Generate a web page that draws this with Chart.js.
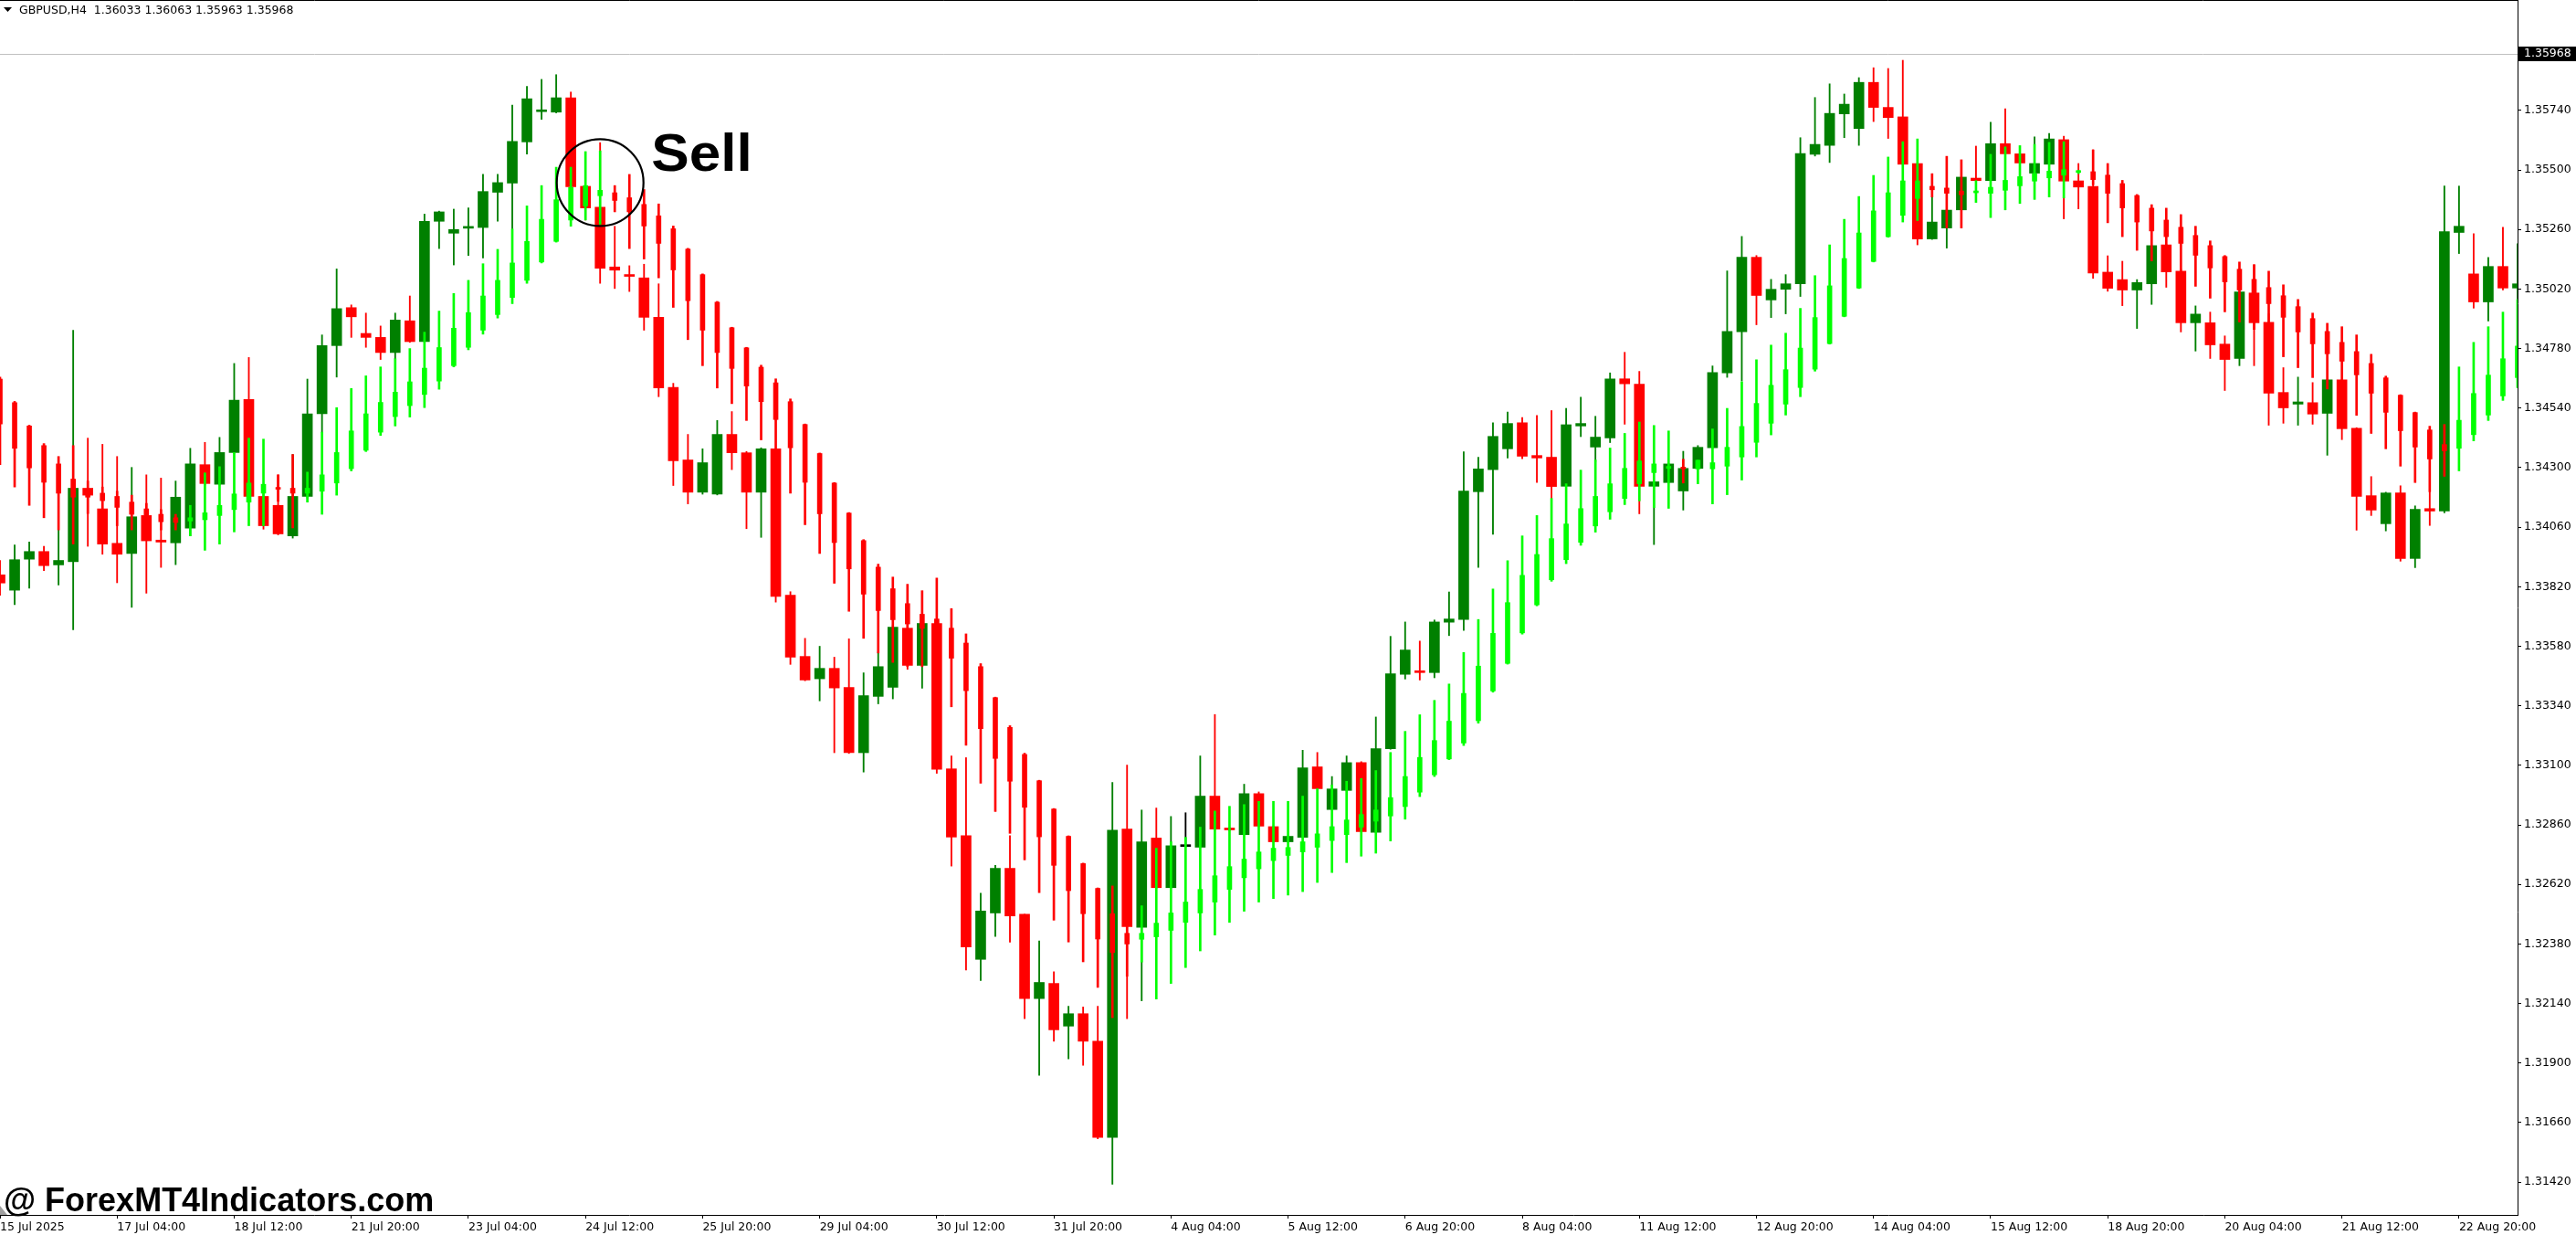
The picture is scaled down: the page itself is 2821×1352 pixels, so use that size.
<!DOCTYPE html>
<html lang="en">
<head>
  <meta charset="UTF-8">
  <title>GBPUSD,H4</title>
  <script src="https://cdn.jsdelivr.net/npm/chart.js@4.4.1/dist/chart.umd.min.js"></script>
  <style>
    html, body { margin: 0; padding: 0; background: #fff; overflow: hidden; }
    #wrap { position: relative; width: 2821px; height: 1352px; }
  </style>
</head>
<body>
<div id="wrap"><canvas id="priceChart"></canvas></div>
<script>
// header + bid line
const symbolHeader = 'GBPUSD,H4  1.36033 1.36063 1.35963 1.35968';
const bidPrice = 1.35968;

// axis labels (one date label every 8 bars)
const dateTicks = ['15 Jul 2025', '17 Jul 04:00', '18 Jul 12:00', '21 Jul 20:00', '23 Jul 04:00',
  '24 Jul 12:00', '25 Jul 20:00', '29 Jul 04:00', '30 Jul 12:00', '31 Jul 20:00', '4 Aug 04:00',
  '5 Aug 12:00', '6 Aug 20:00', '8 Aug 04:00', '11 Aug 12:00', '12 Aug 20:00', '14 Aug 04:00',
  '15 Aug 12:00', '18 Aug 20:00', '20 Aug 04:00', '21 Aug 12:00', '22 Aug 20:00'];
const priceTicks = [1.31420, 1.31660, 1.31900, 1.32140, 1.32380, 1.32620, 1.32860, 1.33100,
  1.33340, 1.33580, 1.33820, 1.34060, 1.34300, 1.34540, 1.34780, 1.35020, 1.35260, 1.35500, 1.35740];

// H4 candles
const candleOpen = [
  1.33868, 1.33806, 1.33931, 1.33962, 1.33908, 1.33921, 1.34217, 1.34134, 1.33995, 1.33954,
  1.34107, 1.34008, 1.33997, 1.34056, 1.34312, 1.34233, 1.34361, 1.34575, 1.34184, 1.34148,
  1.34025, 1.34184, 1.34517, 1.34792, 1.34945, 1.34841, 1.34825, 1.34764, 1.34892, 1.34808,
  1.35293, 1.35245, 1.35265, 1.35268, 1.35410, 1.35447, 1.35613, 1.35735, 1.35733, 1.35791,
  1.35434, 1.35350, 1.35109, 1.35076, 1.35065, 1.34906, 1.34624, 1.34331, 1.34201, 1.34193,
  1.34434, 1.34360, 1.34201, 1.34376, 1.33786, 1.33539, 1.33449, 1.33491, 1.33414, 1.33151,
  1.33378, 1.33415, 1.33653, 1.33503, 1.33672, 1.33086, 1.32817, 1.32318, 1.32505, 1.32685,
  1.32500, 1.32160, 1.32221, 1.32049, 1.32099, 1.31988, 1.31600, 1.32843, 1.32447, 1.32807,
  1.32607, 1.32773, 1.32770, 1.32976, 1.32846, 1.32821, 1.32986, 1.32853, 1.32792, 1.32810,
  1.33094, 1.32922, 1.32999, 1.33111, 1.32830, 1.33167, 1.33467, 1.33480, 1.33474, 1.33677,
  1.33688, 1.34203, 1.34292, 1.34376, 1.34481, 1.34349, 1.34342, 1.34225, 1.34468, 1.34383,
  1.34420, 1.34658, 1.34636, 1.34225, 1.34240, 1.34206, 1.34297, 1.34380, 1.34682, 1.34848,
  1.35148, 1.34976, 1.35019, 1.35041, 1.35563, 1.35599, 1.35726, 1.35667, 1.35853, 1.35752,
  1.35714, 1.35526, 1.35222, 1.35266, 1.35339, 1.35467, 1.35457, 1.35606, 1.35565, 1.35487,
  1.35523, 1.35622, 1.35456, 1.35434, 1.35088, 1.35058, 1.35016, 1.35041, 1.35198, 1.35092,
  1.34884, 1.34884, 1.34798, 1.34740, 1.35004, 1.34886, 1.34603, 1.34556, 1.34562, 1.34519,
  1.34654, 1.34459, 1.34187, 1.34074, 1.34198, 1.33934, 1.34135, 1.34125, 1.35248, 1.35081,
  1.34968, 1.35111, 1.35024];
const candleHigh = [
  1.33926, 1.33988, 1.34000, 1.33983, 1.34049, 1.34854, 1.34419, 1.34394, 1.34345, 1.34301,
  1.34271, 1.34258, 1.34246, 1.34378, 1.34402, 1.34422, 1.34720, 1.34744, 1.34197, 1.34271,
  1.34353, 1.34657, 1.34835, 1.35101, 1.34956, 1.34923, 1.34871, 1.34923, 1.34992, 1.35322,
  1.35334, 1.35342, 1.35347, 1.35482, 1.35482, 1.35761, 1.35837, 1.35865, 1.35884, 1.35814,
  1.35437, 1.35610, 1.35273, 1.35114, 1.35120, 1.35041, 1.34640, 1.34434, 1.34376, 1.34490,
  1.34526, 1.34365, 1.34380, 1.34376, 1.33800, 1.33612, 1.33580, 1.33536, 1.33610, 1.33473,
  1.33557, 1.33665, 1.33665, 1.33675, 1.33682, 1.33138, 1.33131, 1.32585, 1.32697, 1.32817,
  1.32500, 1.32392, 1.32268, 1.32129, 1.32126, 1.32129, 1.33031, 1.33101, 1.32920, 1.32928,
  1.32894, 1.32909, 1.33138, 1.33305, 1.32850, 1.33024, 1.32993, 1.32855, 1.32814, 1.33161,
  1.33152, 1.33055, 1.33138, 1.33115, 1.33295, 1.33620, 1.33678, 1.33601, 1.33686, 1.33799,
  1.34364, 1.34342, 1.34481, 1.34524, 1.34502, 1.34510, 1.34530, 1.34539, 1.34584, 1.34507,
  1.34682, 1.34765, 1.34688, 1.34245, 1.34317, 1.34366, 1.34389, 1.34710, 1.35093, 1.35232,
  1.35155, 1.35059, 1.35078, 1.35630, 1.35792, 1.35847, 1.35806, 1.35872, 1.35912, 1.35909,
  1.35942, 1.35528, 1.35391, 1.35340, 1.35473, 1.35596, 1.35692, 1.35747, 1.35567, 1.35633,
  1.35647, 1.35636, 1.35526, 1.35581, 1.35154, 1.35132, 1.35058, 1.35197, 1.35200, 1.35100,
  1.34952, 1.34927, 1.34831, 1.35010, 1.35118, 1.34920, 1.34703, 1.34665, 1.34643, 1.34656,
  1.34656, 1.34461, 1.34264, 1.34201, 1.34227, 1.34146, 1.34203, 1.35435, 1.35435, 1.35243,
  1.35147, 1.35269, 1.35203];
const candleLow = [
  1.33786, 1.33748, 1.33814, 1.33885, 1.33827, 1.33647, 1.33983, 1.33951, 1.33836, 1.33737,
  1.33794, 1.33898, 1.33909, 1.34025, 1.34230, 1.34230, 1.34358, 1.34181, 1.34052, 1.34029,
  1.34016, 1.34177, 1.34443, 1.34665, 1.34825, 1.34785, 1.34736, 1.34739, 1.34805, 1.34805,
  1.35183, 1.35117, 1.35155, 1.35145, 1.35293, 1.34990, 1.35564, 1.35704, 1.35730, 1.35429,
  1.35298, 1.35043, 1.35022, 1.35010, 1.34854, 1.34586, 1.34228, 1.34154, 1.34193, 1.34190,
  1.34292, 1.34054, 1.34019, 1.33758, 1.33507, 1.33441, 1.33360, 1.33151, 1.33148, 1.33073,
  1.33348, 1.33368, 1.33487, 1.33411, 1.33068, 1.32694, 1.32275, 1.32233, 1.32410, 1.32387,
  1.32079, 1.31851, 1.31988, 1.31917, 1.31891, 1.31595, 1.31412, 1.32079, 1.32151, 1.32603,
  1.32605, 1.32770, 1.32768, 1.32840, 1.32836, 1.32820, 1.32853, 1.32790, 1.32790, 1.32808,
  1.33004, 1.32920, 1.32997, 1.32831, 1.32828, 1.33165, 1.33448, 1.33444, 1.33453, 1.33623,
  1.33644, 1.33898, 1.34031, 1.34339, 1.34336, 1.34240, 1.34176, 1.34222, 1.34425, 1.34324,
  1.34401, 1.34475, 1.34114, 1.33990, 1.34238, 1.34129, 1.34295, 1.34378, 1.34664, 1.34649,
  1.34876, 1.34905, 1.34920, 1.34990, 1.35556, 1.35530, 1.35630, 1.35599, 1.35695, 1.35627,
  1.35521, 1.35198, 1.35220, 1.35185, 1.35337, 1.35455, 1.35455, 1.35563, 1.35526, 1.35485,
  1.35521, 1.35303, 1.35343, 1.35063, 1.35011, 1.34953, 1.34861, 1.34958, 1.35027, 1.34847,
  1.34770, 1.34740, 1.34611, 1.34711, 1.34711, 1.34471, 1.34479, 1.34471, 1.34475, 1.34350,
  1.34413, 1.34048, 1.34107, 1.34045, 1.33923, 1.33897, 1.34067, 1.34118, 1.35163, 1.34943,
  1.34891, 1.35016, 1.34979];
const candleClose = [
  1.33835, 1.33929, 1.33962, 1.33905, 1.33926, 1.34217, 1.34189, 1.33992, 1.33951, 1.34102,
  1.34005, 1.34000, 1.34181, 1.34315, 1.34236, 1.34361, 1.34572, 1.34184, 1.34066, 1.34033,
  1.34184, 1.34517, 1.34792, 1.34941, 1.34908, 1.34825, 1.34764, 1.34895, 1.34808, 1.35293,
  1.35331, 1.35260, 1.35268, 1.35413, 1.35449, 1.35615, 1.35787, 1.35738, 1.35791, 1.35432,
  1.35347, 1.35104, 1.35096, 1.35071, 1.34906, 1.34621, 1.34328, 1.34201, 1.34320, 1.34434,
  1.34360, 1.34201, 1.34376, 1.33781, 1.33536, 1.33444, 1.33491, 1.33412, 1.33151, 1.33381,
  1.33498, 1.33657, 1.33503, 1.33672, 1.33084, 1.32811, 1.32368, 1.32513, 1.32685, 1.32493,
  1.32160, 1.32225, 1.32034, 1.32099, 1.31988, 1.31600, 1.32839, 1.32450, 1.32792, 1.32607,
  1.32776, 1.32773, 1.32976, 1.32843, 1.32840, 1.32986, 1.32855, 1.32792, 1.32814, 1.33090,
  1.33006, 1.33005, 1.33111, 1.32833, 1.33167, 1.33469, 1.33565, 1.33474, 1.33678, 1.33690,
  1.34206, 1.34295, 1.34426, 1.34478, 1.34346, 1.34339, 1.34224, 1.34473, 1.34478, 1.34423,
  1.34658, 1.34638, 1.34225, 1.34243, 1.34315, 1.34297, 1.34382, 1.34683, 1.34849, 1.35148,
  1.34994, 1.35019, 1.35041, 1.35566, 1.35603, 1.35728, 1.35765, 1.35853, 1.35752, 1.35711,
  1.35523, 1.35222, 1.35290, 1.35338, 1.35471, 1.35457, 1.35606, 1.35565, 1.35528, 1.35526,
  1.35625, 1.35455, 1.35431, 1.35084, 1.35023, 1.35016, 1.35046, 1.35195, 1.35089, 1.34884,
  1.34919, 1.34795, 1.34736, 1.35008, 1.34884, 1.34600, 1.34541, 1.34565, 1.34516, 1.34654,
  1.34457, 1.34184, 1.34129, 1.34198, 1.33934, 1.34132, 1.34125, 1.35251, 1.35273, 1.34968,
  1.35111, 1.35024, 1.35041];

// trend indicator bars (lime = up, red = down)
const trendOpen = [
  1.34657, 1.34562, 1.34468, 1.34389, 1.34315, 1.34254, 1.34213, 1.34197, 1.34184, 1.34161,
  1.34134, 1.34112, 1.34098, 1.34085, 1.34090, 1.34107, 1.34131, 1.34161, 1.34197, 1.34218,
  1.34217, 1.34197, 1.34205, 1.34238, 1.34296, 1.34370, 1.34443, 1.34506, 1.34550, 1.34595,
  1.34649, 1.34711, 1.34785, 1.34854, 1.34917, 1.34986, 1.35055, 1.35129, 1.35212, 1.35298,
  1.35355, 1.35396, 1.35408, 1.35388, 1.35361, 1.35315, 1.35263, 1.35181, 1.35078, 1.34967,
  1.34864, 1.34783, 1.34705, 1.34642, 1.34566, 1.34474, 1.34357, 1.34238, 1.34117, 1.34006,
  1.33899, 1.33812, 1.33752, 1.33709, 1.33690, 1.33653, 1.33593, 1.33498, 1.33373, 1.33253,
  1.33144, 1.33038, 1.32924, 1.32814, 1.32704, 1.32604, 1.32502, 1.32423, 1.32399, 1.32409,
  1.32435, 1.32467, 1.32505, 1.32549, 1.32600, 1.32647, 1.32683, 1.32716, 1.32737, 1.32751,
  1.32770, 1.32797, 1.32821, 1.32851, 1.32875, 1.32896, 1.32934, 1.32992, 1.33062, 1.33126,
  1.33190, 1.33280, 1.33400, 1.33511, 1.33634, 1.33747, 1.33848, 1.33929, 1.33999, 1.34065,
  1.34122, 1.34176, 1.34235, 1.34280, 1.34297, 1.34302, 1.34295, 1.34295, 1.34306, 1.34343,
  1.34402, 1.34479, 1.34556, 1.34623, 1.34697, 1.34800, 1.34910, 1.35024, 1.35131, 1.35231,
  1.35317, 1.35385, 1.35434, 1.35427, 1.35415, 1.35408, 1.35406, 1.35418, 1.35436, 1.35455,
  1.35468, 1.35479, 1.35490, 1.35493, 1.35479, 1.35445, 1.35397, 1.35346, 1.35298, 1.35269,
  1.35236, 1.35195, 1.35151, 1.35100, 1.35059, 1.35026, 1.34993, 1.34949, 1.34901, 1.34849,
  1.34805, 1.34768, 1.34720, 1.34662, 1.34592, 1.34522, 1.34452, 1.34393, 1.34378, 1.34433,
  1.34512, 1.34589, 1.34663];
const trendHigh = [
  1.34665, 1.34567, 1.34471, 1.34397, 1.34345, 1.34389, 1.34246, 1.34222, 1.34205, 1.34189,
  1.34156, 1.34131, 1.34112, 1.34148, 1.34279, 1.34304, 1.34361, 1.34419, 1.34415, 1.34271,
  1.34353, 1.34282, 1.34443, 1.34542, 1.34619, 1.34670, 1.34706, 1.34739, 1.34780, 1.34846,
  1.34931, 1.35002, 1.35055, 1.35122, 1.35180, 1.35262, 1.35355, 1.35437, 1.35511, 1.35511,
  1.35574, 1.35577, 1.35437, 1.35482, 1.35421, 1.35363, 1.35274, 1.35184, 1.35081, 1.34970,
  1.34866, 1.34785, 1.34713, 1.34658, 1.34577, 1.34476, 1.34359, 1.34240, 1.34119, 1.34010,
  1.33911, 1.33859, 1.33830, 1.33804, 1.33855, 1.33732, 1.33630, 1.33510, 1.33375, 1.33260,
  1.33149, 1.33040, 1.32926, 1.32816, 1.32706, 1.32606, 1.32614, 1.32480, 1.32534, 1.32766,
  1.32792, 1.32810, 1.32851, 1.32916, 1.32935, 1.32942, 1.32955, 1.32955, 1.32955, 1.32976,
  1.33006, 1.33021, 1.33036, 1.33047, 1.33079, 1.33152, 1.33237, 1.33304, 1.33362, 1.33428,
  1.33555, 1.33688, 1.33811, 1.33925, 1.34025, 1.34107, 1.34176, 1.34235, 1.34290, 1.34331,
  1.34379, 1.34438, 1.34484, 1.34470, 1.34448, 1.34334, 1.34330, 1.34456, 1.34539, 1.34646,
  1.34735, 1.34794, 1.34842, 1.34942, 1.35074, 1.35198, 1.35301, 1.35393, 1.35478, 1.35552,
  1.35614, 1.35625, 1.35485, 1.35555, 1.35541, 1.35457, 1.35563, 1.35593, 1.35598, 1.35603,
  1.35611, 1.35614, 1.35498, 1.35581, 1.35526, 1.35458, 1.35401, 1.35360, 1.35346, 1.35320,
  1.35273, 1.35214, 1.35155, 1.35129, 1.35118, 1.35092, 1.35037, 1.34978, 1.34923, 1.34882,
  1.34868, 1.34835, 1.34757, 1.34669, 1.34594, 1.34524, 1.34467, 1.34474, 1.34706, 1.34805,
  1.34868, 1.34927, 1.34978];
const trendLow = [
  1.34312, 1.34222, 1.34148, 1.34098, 1.34049, 1.33992, 1.34115, 1.34115, 1.34066, 1.34049,
  1.34066, 1.34049, 1.34049, 1.34025, 1.33967, 1.33992, 1.34041, 1.34066, 1.34066, 1.34164,
  1.34057, 1.34161, 1.34112, 1.34189, 1.34287, 1.34365, 1.34430, 1.34468, 1.34504, 1.34542,
  1.34616, 1.34706, 1.34775, 1.34838, 1.34903, 1.34961, 1.35043, 1.35125, 1.35209, 1.35273,
  1.35298, 1.35281, 1.35331, 1.35183, 1.35141, 1.35065, 1.34946, 1.34816, 1.34711, 1.34621,
  1.34558, 1.34490, 1.34412, 1.34376, 1.34197, 1.34070, 1.33954, 1.33834, 1.33721, 1.33612,
  1.33553, 1.33515, 1.33498, 1.33498, 1.33450, 1.33336, 1.33181, 1.33028, 1.32914, 1.32826,
  1.32719, 1.32587, 1.32476, 1.32388, 1.32308, 1.32205, 1.32083, 1.32250, 1.32307, 1.32158,
  1.32221, 1.32285, 1.32352, 1.32416, 1.32467, 1.32512, 1.32549, 1.32563, 1.32577, 1.32591,
  1.32628, 1.32668, 1.32708, 1.32734, 1.32746, 1.32795, 1.32883, 1.32974, 1.33055, 1.33123,
  1.33180, 1.33270, 1.33395, 1.33508, 1.33629, 1.33743, 1.33842, 1.33913, 1.33987, 1.34040,
  1.34092, 1.34151, 1.34166, 1.34139, 1.34136, 1.34238, 1.34235, 1.34154, 1.34191, 1.34250,
  1.34343, 1.34432, 1.34512, 1.34586, 1.34689, 1.34798, 1.34908, 1.35022, 1.35129, 1.35229,
  1.35290, 1.35296, 1.35391, 1.35266, 1.35266, 1.35369, 1.35308, 1.35339, 1.35365, 1.35381,
  1.35391, 1.35387, 1.35485, 1.35440, 1.35287, 1.35231, 1.35176, 1.35133, 1.35090, 1.35030,
  1.35031, 1.34983, 1.34928, 1.34887, 1.34857, 1.34886, 1.34747, 1.34703, 1.34663, 1.34617,
  1.34654, 1.34511, 1.34438, 1.34376, 1.34306, 1.34240, 1.34203, 1.34265, 1.34287, 1.34408,
  1.34490, 1.34571, 1.34622];
const trendClose = [
  1.34476, 1.34378, 1.34299, 1.34241, 1.34197, 1.34181, 1.34181, 1.34167, 1.34140, 1.34112,
  1.34107, 1.34082, 1.34079, 1.34098, 1.34118, 1.34148, 1.34194, 1.34238, 1.34233, 1.34213,
  1.34197, 1.34217, 1.34271, 1.34361, 1.34448, 1.34517, 1.34563, 1.34604, 1.34646, 1.34701,
  1.34784, 1.34862, 1.34925, 1.34992, 1.35055, 1.35125, 1.35212, 1.35301, 1.35380, 1.35429,
  1.35437, 1.35418, 1.35377, 1.35331, 1.35274, 1.35204, 1.35097, 1.34973, 1.34854, 1.34764,
  1.34700, 1.34629, 1.34566, 1.34494, 1.34380, 1.34241, 1.34114, 1.33998, 1.33892, 1.33790,
  1.33724, 1.33687, 1.33670, 1.33652, 1.33590, 1.33532, 1.33401, 1.33248, 1.33128, 1.33036,
  1.32931, 1.32812, 1.32697, 1.32595, 1.32502, 1.32400, 1.32346, 1.32380, 1.32423, 1.32464,
  1.32505, 1.32549, 1.32600, 1.32655, 1.32692, 1.32722, 1.32751, 1.32766, 1.32769, 1.32792,
  1.32824, 1.32853, 1.32880, 1.32902, 1.32920, 1.32970, 1.33055, 1.33132, 1.33200, 1.33278,
  1.33390, 1.33500, 1.33632, 1.33756, 1.33866, 1.33950, 1.34014, 1.34073, 1.34135, 1.34184,
  1.34235, 1.34297, 1.34327, 1.34315, 1.34305, 1.34295, 1.34330, 1.34320, 1.34382, 1.34466,
  1.34559, 1.34632, 1.34695, 1.34782, 1.34905, 1.35033, 1.35143, 1.35246, 1.35335, 1.35408,
  1.35456, 1.35456, 1.35420, 1.35406, 1.35400, 1.35413, 1.35430, 1.35458, 1.35473, 1.35485,
  1.35495, 1.35501, 1.35493, 1.35461, 1.35406, 1.35347, 1.35290, 1.35254, 1.35231, 1.35204,
  1.35156, 1.35105, 1.35049, 1.35016, 1.35004, 1.34961, 1.34906, 1.34847, 1.34799, 1.34759,
  1.34729, 1.34674, 1.34600, 1.34523, 1.34449, 1.34383, 1.34335, 1.34368, 1.34491, 1.34599,
  1.34673, 1.34739, 1.34790];

// "Sell" mark: bar index and price of the circle centre
const signalBar = 41;
const signalPrice = 1.35449;

// bar open times, H4, weekdays only, starting 15 Jul 2025 20:00
const barTimes = [];
let t = Date.UTC(2025, 6, 15, 20);
while (barTimes.length < candleOpen.length) {
  const d = new Date(t);
  const wd = d.getUTCDay();
  if (wd !== 0 && wd !== 6) barTimes.push(d.toISOString().slice(0, 16).replace('T', ' '));
  t += 4 * 3600 * 1000;
}

const candleColors = candleClose.map((c, i) =>
  c > candleOpen[i] ? '#008000' : (c < candleOpen[i] ? '#ff0000' : '#000000'));
const trendColors = trendClose.map((c, i) => c >= trendOpen[i] ? '#00ff00' : '#ff0000');

function barSet(label, data, colors, thickness, order, minLen) {
  return {
    label, data, order,
    backgroundColor: colors,
    borderWidth: 0,
    barThickness: thickness,
    minBarLength: minLen,
    grouped: false,
    clip: 0
  };
}

// bid line, label box, header, sell mark, watermark
const overlay = {
  id: 'overlay',
  beforeDatasetsDraw(chart) {
    const { ctx, chartArea: a, scales: { y } } = chart;
    const yb = Math.round(y.getPixelForValue(bidPrice)) + 0.5;
    ctx.save();
    ctx.strokeStyle = '#c0c0c0';
    ctx.lineWidth = 1;
    ctx.beginPath(); ctx.moveTo(a.left, yb); ctx.lineTo(a.right, yb); ctx.stroke();
    ctx.restore();
  },
  afterDraw(chart) {
    const { ctx, chartArea: a, scales: { x, y } } = chart;
    ctx.save();
    ctx.strokeStyle = '#000';
    ctx.lineWidth = 1;
    ctx.beginPath(); ctx.moveTo(0, 0.5); ctx.lineTo(a.right, 0.5); ctx.stroke();

    // header
    ctx.fillStyle = '#000';
    ctx.beginPath(); ctx.moveTo(4, 8); ctx.lineTo(13, 8); ctx.lineTo(8.5, 13); ctx.closePath(); ctx.fill();
    ctx.font = '12.5px "DejaVu Sans"';
    ctx.textAlign = 'left';
    ctx.textBaseline = 'middle';
    ctx.fillText(symbolHeader, 21, 12);

    // bid price box on the axis
    const yb = Math.round(y.getPixelForValue(bidPrice));
    ctx.fillRect(a.right + 1, yb - 8, chart.width - a.right - 1, 16);
    ctx.fillStyle = '#fff';
    ctx.fillText(bidPrice.toFixed(5), a.right + 7, yb);

    // sell circle + text
    const cx = x.getPixelForValue(signalBar);
    const cy = y.getPixelForValue(signalPrice);
    ctx.strokeStyle = '#000';
    ctx.lineWidth = 2.2;
    ctx.beginPath(); ctx.arc(cx, cy, 47.5, 0, Math.PI * 2); ctx.stroke();
    ctx.fillStyle = '#000';
    ctx.font = 'bold 57px "Liberation Sans"';
    ctx.textBaseline = 'alphabetic';
    ctx.save();
    ctx.translate(cx + 56, cy - 13);
    ctx.scale(1.09, 1);
    ctx.fillText('Sell', 0, 0);
    ctx.restore();

    // watermark
    ctx.font = 'bold 36px "Liberation Sans"';
    ctx.fillText('@ ForexMT4Indicators.com', 4, a.bottom - 4);
    ctx.fillStyle = '#a0a0a0';
    ctx.beginPath(); ctx.moveTo(0, a.bottom - 10); ctx.lineTo(8, a.bottom); ctx.lineTo(0, a.bottom); ctx.closePath(); ctx.fill();
    ctx.restore();
  }
};

const axisFont = { family: 'DejaVu Sans', size: 12.5 };

new Chart(document.getElementById('priceChart'), {
  type: 'bar',
  data: {
    labels: barTimes,
    datasets: [
      barSet('trend body', trendOpen.map((o, i) => [o, trendClose[i]]), trendColors, 5, 0, 2),
      barSet('trend range', trendLow.map((l, i) => [l, trendHigh[i]]), trendColors, 2, 1, 0),
      barSet('body', candleOpen.map((o, i) => [o, candleClose[i]]), candleColors, 11, 2, 2),
      barSet('range', candleLow.map((l, i) => [l, candleHigh[i]]), candleColors, 1.2, 3, 0)
    ]
  },
  options: {
    responsive: true,
    maintainAspectRatio: false,
    devicePixelRatio: 1,
    animation: false,
    events: [],
    layout: { padding: 0 },
    plugins: { legend: { display: false }, tooltip: { enabled: false } },
    scales: {
      x: {
        type: 'category',
        offset: false,
        afterBuildTicks: (s) => { s.ticks = s.ticks.filter(tk => tk.value % 8 === 0); },
        afterFit: (s) => { s.height = 22; s.paddingLeft = 0; s.paddingRight = 0; },
        grid: { display: true, offset: false, drawOnChartArea: false, drawTicks: true, tickLength: 4, color: '#000' },
        border: { display: true, color: '#000', width: 1 },
        ticks: {
          autoSkip: false, maxRotation: 0, minRotation: 0, align: 'start', padding: 2,
          color: '#000', font: axisFont,
          callback: (v) => v % 8 === 0 ? (dateTicks[v / 8] || '') : ''
        }
      },
      y: {
        type: 'linear',
        position: 'right',
        min: 1.31288,
        max: 1.36185,
        afterBuildTicks: (s) => { s.ticks = priceTicks.map(v => ({ value: v })); },
        afterFit: (s) => { s.width = 64; s.paddingTop = 0; s.paddingBottom = 0; },
        grid: { display: true, drawOnChartArea: false, drawTicks: true, tickLength: 4, color: '#000' },
        border: { display: true, color: '#000', width: 1 },
        ticks: { padding: 3, color: '#000', font: axisFont, callback: (v) => Number(v).toFixed(5) }
      }
    }
  },
  plugins: [overlay]
});
</script>
</body>
</html>
